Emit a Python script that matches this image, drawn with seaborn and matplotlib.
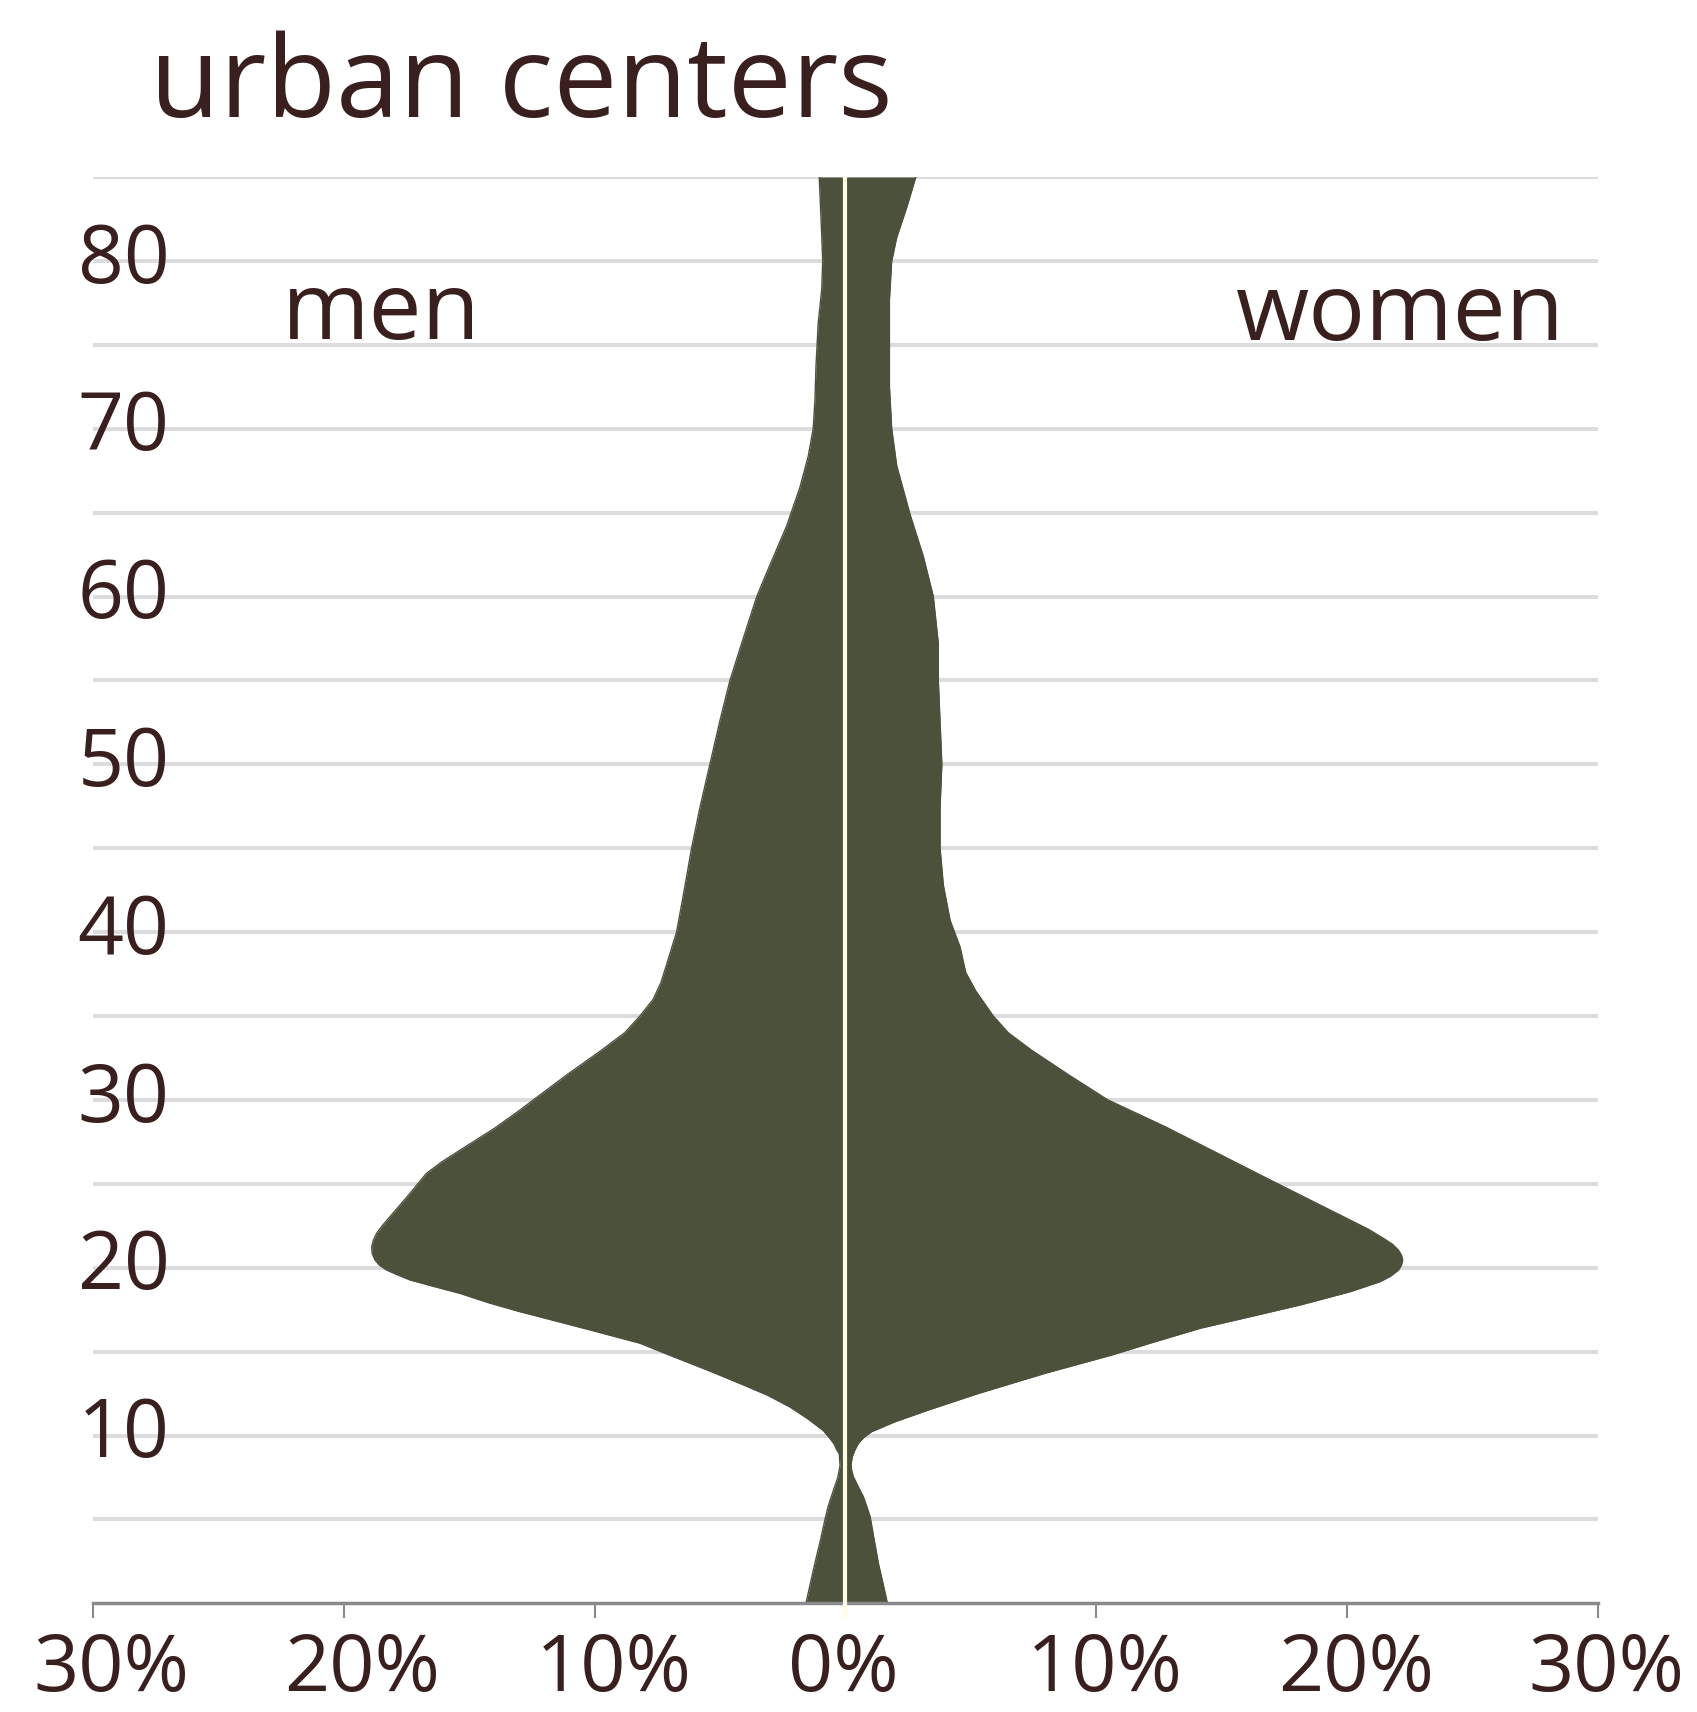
import numpy as np
import pandas as pd
import matplotlib
matplotlib.use("Agg")
import matplotlib.pyplot as plt
import matplotlib.transforms as mtrans
import seaborn as sns

# ---------------- data ----------------
TITLE = "urban centers"
LEFT_LABEL = "men"
RIGHT_LABEL = "women"

age_men = [0, 1.2, 2.4, 3.7, 5.0, 5.8, 6.7, 7.5, 8.2, 8.9, 9.14, 9.5, 9.8, 10.3, 11.0, 11.7,
           12.4, 13.1, 13.9, 14.7, 15.5, 16.3, 17.1, 17.38, 17.9, 18.47, 18.9, 19.27, 19.6,
           19.86, 20.15, 20.46, 20.85, 21.25, 21.65, 22.05, 22.5, 23.04, 23.7, 24.43, 25.0,
           25.63, 26.3, 27.0, 28.3, 29.4, 30.0, 31.5, 32.9, 34.0, 35.0, 36.0, 37.0, 38.1,
           40.0, 42.2, 45.0, 47.4, 50.0, 52.6, 55.0, 57.5, 60.0, 61.4, 64.2, 66.5, 68.35,
           70.0, 71.7, 73.7, 76.3, 78.3, 80.0, 82.6, 85.0]
pct_men = [1.57, 1.39, 1.21, 1.0, 0.81, 0.68, 0.48, 0.30, 0.21, 0.24, 0.34, 0.45, 0.6, 0.88, 1.5, 2.21,
           3.1, 4.2, 5.5, 6.86, 8.19, 10.2, 12.25, 12.98, 14.2, 15.37, 16.45, 17.36, 17.9,
           18.29, 18.58, 18.76, 18.87, 18.89, 18.82, 18.69, 18.47, 18.16, 17.78, 17.36, 17.05,
           16.7, 16.1, 15.37, 14.0, 12.97, 12.44, 11.1, 9.78, 8.8, 8.19, 7.66, 7.35, 7.12,
           6.73, 6.46, 6.13, 5.8, 5.4, 5.0, 4.6, 4.07, 3.53, 3.14, 2.34, 1.81, 1.48,
           1.28, 1.21, 1.17, 1.08, 0.94, 0.9, 0.97, 1.04]

age_women = [0, 1.2, 2.38, 3.8, 5.16, 5.8, 6.35, 7.0, 7.55, 7.94, 8.3, 8.74, 9.1, 9.54, 9.9,
             10.23, 10.82, 11.52, 12.51, 13.71, 14.8, 15.5, 16.39, 17.08, 17.78, 18.57, 19.17,
             19.5, 19.86, 20.15, 20.46, 20.75, 21.05, 21.4, 21.75, 22.3, 22.84, 24.03, 25.23,
             26.9, 28.4, 30.0, 31.5, 32.97, 34.0, 35.0, 36.5, 37.6, 39.1, 40.7, 42.8, 45.0,
             47.5, 50.0, 52.5, 55.0, 57.2, 60.0, 62.4, 64.9, 67.8, 70.0, 72.5, 75.0, 77.7,
             80.0, 81.4, 83.2, 85.0]
pct_women = [1.68, 1.5, 1.32, 1.15, 0.99, 0.85, 0.72, 0.5, 0.32, 0.25, 0.23, 0.28, 0.37, 0.52, 0.75,
             1.05, 1.98, 3.31, 5.31, 7.97, 10.63, 12.15, 14.15, 16.14, 18.14, 20.13, 21.33,
             21.75, 22.06, 22.18, 22.23, 22.18, 22.06, 21.82, 21.46, 20.85, 20.13, 18.54, 16.94,
             14.74, 12.76, 10.47, 8.9, 7.42, 6.5, 5.9, 5.2, 4.8, 4.58, 4.18, 3.91, 3.78,
             3.78, 3.85, 3.78, 3.71, 3.71, 3.51, 3.11, 2.58, 2.05, 1.85, 1.76, 1.76, 1.76,
             1.85, 2.05, 2.45, 2.81]

x_ticks = [-30, -20, -10, 0, 10, 20, 30]
x_tick_labels = ["30%", "20%", "10%", "0%", "10%", "20%", "30%"]
y_ticks = [10, 20, 30, 40, 50, 60, 70, 80]
y_tick_labels = ["10", "20", "30", "40", "50", "60", "70", "80"]
grid_levels = [5, 10, 15, 20, 25, 30, 35, 40, 45, 50, 55, 60, 65, 70, 75, 80, 85]

# ---------------- style ----------------
FILL = "#4C513B"
TEXT = "#3A1F1F"
GRID = "#DCDCDE"
AXIS = "#8A8A8A"
CENTER = "#FFFDE4"

sns.set_theme(style="white")
plt.rcParams["font.family"] = ["Open Sans", "DejaVu Sans"]

W, H, DPI = 1697, 1712, 100
fig = plt.figure(figsize=(W / DPI, H / DPI), dpi=DPI)
fig.patch.set_facecolor("white")

ax_l, ax_r, ax_b, ax_t = 93.1, 1597.5, 1603.3, 177.0
ax = fig.add_axes([ax_l / W, 1 - ax_b / H, (ax_r - ax_l) / W, (ax_b - ax_t) / H])
ax.set_facecolor("white")
ax.set_xlim(-30, 30)
ax.set_ylim(0, 85)

for g in grid_levels:
    ax.axhline(g, color=GRID, lw=2.9, zorder=0)

men = pd.DataFrame({"age": age_men, "pct": -np.asarray(pct_men)})
women = pd.DataFrame({"age": age_women, "pct": np.asarray(pct_women)})

ax.fill_betweenx(men["age"], men["pct"], 0, color=FILL, lw=0, zorder=2)
ax.fill_betweenx(women["age"], 0, women["pct"], color=FILL, lw=0, zorder=2)
sns.lineplot(data=men, x="pct", y="age", orient="y", sort=False, estimator=None,
             color=FILL, lw=1.0, ax=ax, zorder=2)
sns.lineplot(data=women, x="pct", y="age", orient="y", sort=False, estimator=None,
             color=FILL, lw=1.0, ax=ax, zorder=2)
ax.set_xlabel("")
ax.set_ylabel("")

# axes / ticks
for s in ["top", "left", "right"]:
    ax.spines[s].set_visible(False)
ax.spines["bottom"].set_color(AXIS)
ax.spines["bottom"].set_linewidth(2.5)
ax.spines["bottom"].set_zorder(3)
ax.set_xticks(x_ticks)
ax.set_xticklabels([])
ax.tick_params(axis="x", length=10.8, width=1.5, color=AXIS, direction="out", bottom=True)
ax.set_yticks([])

# center line
ax.plot([0, 0], [85, -0.9], color=CENTER, lw=3.0, clip_on=False, zorder=6,
        solid_capstyle="butt")

# x labels
xoff = {-30: 18, -20: 18, -10: 19, 0: -2, 10: 9, 20: 9, 30: 9}
for v, lab in zip(x_ticks, x_tick_labels):
    tr = mtrans.blended_transform_factory(ax.transData, ax.transAxes) + \
        mtrans.ScaledTranslation(xoff[v] / DPI, -27.5 / DPI, fig.dpi_scale_trans)
    ax.text(v, 0, lab, transform=tr, ha="center", va="top", fontsize=57, color=TEXT,
            clip_on=False)

# y labels
for v, lab in zip(y_ticks, y_tick_labels):
    tr = mtrans.blended_transform_factory(ax.transAxes, ax.transData) + \
        mtrans.ScaledTranslation(76.6 / DPI, -21.7 / DPI, fig.dpi_scale_trans)
    ax.text(0, v, lab, transform=tr, ha="right", va="baseline", fontsize=58, color=TEXT,
            zorder=4)

# side labels
ax.text(-18.5, 75.35, LEFT_LABEL, ha="center", va="baseline", fontsize=68, color=TEXT, zorder=4)
ax.text(22.15, 75.3, RIGHT_LABEL, ha="center", va="baseline", fontsize=68, color=TEXT, zorder=4)

# title
fig.text(150 / W, 1 - 117 / H, TITLE, ha="left", va="baseline", fontsize=82, color=TEXT)

fig.savefig("out.png", dpi=DPI, facecolor="white")
